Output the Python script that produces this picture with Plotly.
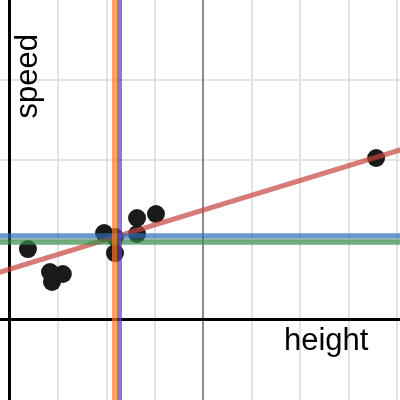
import plotly.graph_objects as go

# Data (in grid units)
height = [0.38, 0.835, 1.10, 0.876, 1.95, 2.175, 2.175, 2.63, 2.63, 3.02, 7.56]
speed = [0.88, 0.594, 0.569, 0.469, 1.081, 1.031, 0.831, 1.269, 1.069, 1.319, 2.019]

fit_intercept = 0.63
fit_slope = 0.185
blue_level = 1.044
green_level = 0.969
orange_x = 2.165
purple_x = 2.268

x_major = [0, 4]
y_major = [0]

x_range = [-0.196, 8.052]
y_range = [-1.006, 3.994]

fig = go.Figure()

fig.add_trace(go.Scatter(
    x=height, y=speed, mode="markers",
    marker=dict(size=18, color="black", line=dict(width=0)),
    opacity=0.9, hoverinfo="skip", showlegend=False))

x_fit = [x_range[0] - 1, x_range[1] + 1]
fig.add_trace(go.Scatter(
    x=x_fit, y=[fit_intercept + fit_slope * v for v in x_fit], mode="lines",
    line=dict(color="#c74440", width=5), opacity=0.7,
    hoverinfo="skip", showlegend=False))
fig.add_trace(go.Scatter(
    x=x_fit, y=[blue_level, blue_level], mode="lines",
    line=dict(color="#2d70b3", width=5.5), opacity=0.7,
    hoverinfo="skip", showlegend=False))
fig.add_trace(go.Scatter(
    x=x_fit, y=[green_level, green_level], mode="lines",
    line=dict(color="#388c46", width=5.5), opacity=0.7,
    hoverinfo="skip", showlegend=False))
y_ext = [y_range[0] - 1, y_range[1] + 1]
fig.add_trace(go.Scatter(
    x=[orange_x, orange_x], y=y_ext, mode="lines",
    line=dict(color="#fa7e19", width=5), opacity=0.7,
    hoverinfo="skip", showlegend=False))
fig.add_trace(go.Scatter(
    x=[purple_x, purple_x], y=y_ext, mode="lines",
    line=dict(color="#6042a6", width=5), opacity=0.7,
    hoverinfo="skip", showlegend=False))

axis_common = dict(
    showticklabels=False, ticks="", showline=False,
    zeroline=True, zerolinecolor="black", zerolinewidth=3,
    gridcolor="#8c8c8c", gridwidth=2, tickmode="array",
)
fig.update_xaxes(range=x_range, tickvals=x_major,
                 minor=dict(tick0=0, dtick=1, showgrid=True, gridcolor="#e3e3e3", gridwidth=2),
                 **axis_common)
fig.update_yaxes(range=y_range, tickvals=y_major,
                 minor=dict(tick0=0, dtick=1, showgrid=True, gridcolor="#e3e3e3", gridwidth=2),
                 **axis_common)

fig.add_annotation(text="height", xref="paper", yref="paper",
                   x=326.5 / 400, y=1 - 339 / 400, xanchor="center", yanchor="middle",
                   showarrow=False, font=dict(family="Liberation Sans, Arial", size=31, color="black"))
fig.add_annotation(text="speed", xref="paper", yref="paper",
                   x=26 / 400, y=1 - 76.5 / 400, xanchor="center", yanchor="middle",
                   textangle=-90,
                   showarrow=False, font=dict(family="Liberation Sans, Arial", size=31, color="black"))

fig.update_layout(width=400, height=400, margin=dict(l=0, r=0, t=0, b=0),
                  plot_bgcolor="white", paper_bgcolor="white")

fig.write_html("out.html", config={"displayModeBar": False},
               post_script="document.body.style.margin='0';document.body.style.overflow='hidden';")
